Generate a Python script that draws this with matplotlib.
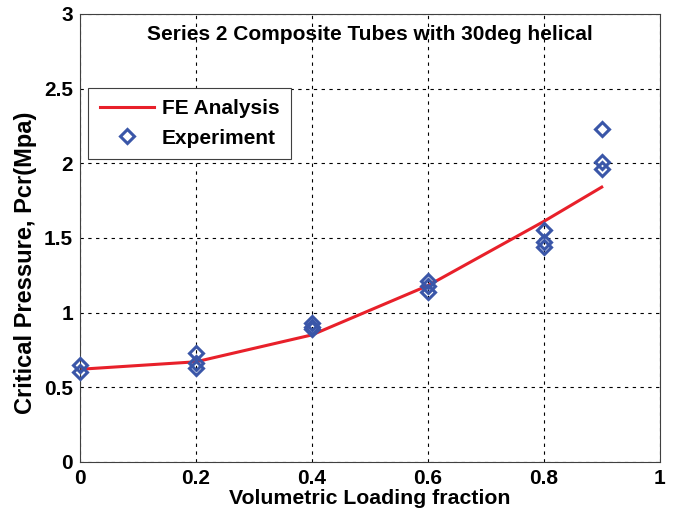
import matplotlib
matplotlib.use("Agg")
import matplotlib.pyplot as plt

plt.rcParams["font.family"] = ["Liberation Sans", "DejaVu Sans"]
plt.rcParams["font.weight"] = "bold"

# FE analysis curve
fe_x = [0.0, 0.2, 0.4, 0.6, 0.8, 0.9]
fe_y = [0.62, 0.67, 0.85, 1.18, 1.61, 1.84]

# Experimental points
exp_x = [0.0, 0.0, 0.2, 0.2, 0.2, 0.4, 0.4, 0.4, 0.6, 0.6, 0.6,
         0.8, 0.8, 0.8, 0.9, 0.9, 0.9]
exp_y = [0.65, 0.60, 0.73, 0.66, 0.63, 0.93, 0.90, 0.89, 1.21, 1.18, 1.14,
         1.55, 1.47, 1.44, 2.23, 2.01, 1.96]

fig = plt.figure(figsize=(6.78, 5.16), dpi=100)
ax = fig.add_axes([0.118, 0.105, 0.855, 0.868])

ax.plot(fe_x, fe_y, color="#e8202a", lw=2.2, label="FE Analysis")
ax.plot(exp_x, exp_y, linestyle="none", marker="D", markersize=7.5,
        markerfacecolor="none", markeredgecolor="#3a56a8", markeredgewidth=2.2,
        label="Experiment", clip_on=False, zorder=5)

ax.set_xlim(0, 1)
ax.set_ylim(0, 3)
ax.set_xticks([0, 0.2, 0.4, 0.6, 0.8, 1])
ax.set_xticklabels(["0", "0.2", "0.4", "0.6", "0.8", "1"])
ax.set_yticks([0, 0.5, 1, 1.5, 2, 2.5, 3])
ax.set_yticklabels(["0", "0.5", "1", "1.5", "2", "2.5", "3"])
ax.tick_params(labelsize=15, direction="in", length=0, pad=5)
ax.grid(True, color="black", linestyle=(0, (3, 4)), linewidth=0.8)
for s in ax.spines.values():
    s.set_color("#404040")

ax.set_xlabel("Volumetric Loading fraction", fontsize=15.3, fontweight="bold", labelpad=1)
ax.set_ylabel("Critical Pressure, Pcr(Mpa)", fontsize=17, fontweight="bold")
ax.yaxis.set_label_coords(-0.075, 0.445)
ax.text(0.5, 0.975, "Series 2 Composite Tubes with 30deg helical",
        transform=ax.transAxes, ha="center", va="top", fontsize=15, fontweight="bold")

leg = ax.legend(loc="upper left", bbox_to_anchor=(0.014, 0.835), fontsize=15,
                frameon=True, fancybox=False, edgecolor="#404040", framealpha=1,
                handlelength=2.6, borderpad=0.55, handletextpad=0.4,
                borderaxespad=0, labelspacing=0.5)
leg.get_frame().set_linewidth(0.8)

fig.savefig("out.png", dpi=100)
